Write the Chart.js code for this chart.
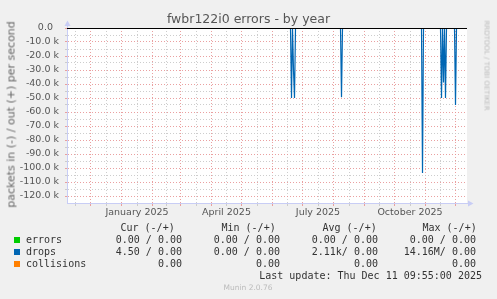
<!DOCTYPE html>
<html><head><meta charset="utf-8">
<script src="https://cdn.jsdelivr.net/npm/chart.js@4"></script>
<style>
html,body{margin:0;padding:0;background:#f0f0f0;}
#wrap{position:relative;width:497px;height:299px;overflow:hidden;background:#f0f0f0;}
canvas{position:absolute;left:0;top:0;}
.t{position:absolute;white-space:pre;line-height:1;font-family:'DejaVu Sans',sans-serif;}
.m{position:absolute;white-space:pre;line-height:1;font-family:'DejaVu Sans Mono',monospace;font-size:10px;color:#333;}
.sq{position:absolute;width:6px;height:6px;}
</style></head>
<body><div id="wrap"><canvas id="c" width="497" height="299"></canvas>
<div class="t" style="left:0;width:497px;text-align:center;top:12.7px;font-size:12.5px;color:#555">fwbr122i0 errors - by year</div>
<div class="t" style="left:-98.8px;top:108.5px;width:220px;height:11px;text-align:center;font-size:11px;color:#666;transform:rotate(-90deg);transform-origin:50% 50%">packets in (-) / out (+) per second</div>
<div class="t" style="left:436.4px;top:61.5px;width:100px;height:7px;text-align:center;font-size:7px;color:#bbb;transform:rotate(90deg);transform-origin:50% 50%">RRDTOOL / TOBI OETIKER</div>
<div id="legend"></div>
<div class="t" style="left:0;width:496px;text-align:center;top:284px;font-size:7.5px;color:#bbb">Munin 2.0.76</div>
</div>
<script>
// ---- data (x = days since 2025-01-01, one point per day) ----
const xMin = -54.5, xMax = 345.5;
const monthStartDays = [-61, -31, 0, 31, 59, 90, 120, 151, 181, 212, 243, 273, 304, 334, 365];
const xLabelDays = [15.5, 105, 196.5, 288.5];
const xLabelTexts = ['January 2025', 'April 2025', 'July 2025', 'October 2025'];

const yMin = -125000, yMax = 0;
const yTickValues = [-120000,-115000,-110000,-105000,-100000,-95000,-90000,-85000,-80000,-75000,-70000,-65000,-60000,-55000,-50000,-45000,-40000,-35000,-30000,-25000,-20000,-15000,-10000,-5000,0];

const dropsInDays   = [-54.5, 169, 170, 171, 172, 173, 174, 219, 220, 221, 300, 301, 302, 319, 320, 321, 322, 323, 324, 325, 333, 334, 335, 345.5];
const dropsInValues = [0, 0, -50000, 0, -30000, -50000, 0, 0, -49500, 0, 0, -103500, 0, 0, -50000, 0, -39000, 0, -50000, 0, 0, -55000, 0, 0];
const errorsDays = [-54.5, 345.5];
const errorsValues = [0, 0];
const collisionsDays = [-54.5, 345.5];
const collisionsValues = [0, 0];

const legendNames = ['errors', 'drops', 'collisions'];
const legendColors = ['#00cc00', '#0066b3', '#ff8000'];
const legendHeaders = ['Cur (-/+)', 'Min (-/+)', 'Avg (-/+)', 'Max (-/+)'];
const curVals = ['0.00 / 0.00', '4.50 / 0.00', '0.00'];
const minVals = ['0.00 / 0.00', '0.00 / 0.00', '0.00'];
const avgVals = ['0.00 / 0.00', '2.11k/ 0.00', '0.00'];
const maxVals = ['0.00 / 0.00', '14.16M/ 0.00', '0.00'];
const lastUpdate = 'Last update: Thu Dec 11 09:55:00 2025';

// ---- legend (HTML text) ----
(function(){
  const lg = document.getElementById('legend');
  const add = (cls, txt, style) => { const d = document.createElement('div'); d.className = cls; d.textContent = txt; d.style.cssText = style; lg.appendChild(d); };
  const headLeft = [120.5, 221.5, 322.5, 422.5];
  legendHeaders.forEach((h,i)=> add('m', h, `left:${headLeft[i]}px;top:223px`));
  const colRight = [182, 280, 378, 476];
  const cols = [curVals, minVals, avgVals, maxVals];
  legendNames.forEach((n,r)=>{
    const top = 235 + r*12;
    const sq = document.createElement('div'); sq.className='sq'; sq.style.cssText=`left:14px;top:${top+2}px;background:${legendColors[r]}`; lg.appendChild(sq);
    add('m', n, `left:26px;top:${top}px`);
    cols.forEach((c,ci)=> add('m', c[r], `right:${497-colRight[ci]}px;top:${top}px`));
  });
  add('m', lastUpdate, `right:${497-482}px;top:271px`);
})();

// ---- ticks ----
const xTicks = [];
for (let i = 0; i < monthStartDays.length - 1; i++) {
  const s = monthStartDays[i], mid = (s + monthStartDays[i+1]) / 2;
  if (s >= xMin && s <= xMax) xTicks.push({value: s, major: true});
  if (mid >= xMin && mid <= xMax) xTicks.push({value: mid, major: false});
}
const RED = 'rgba(232,150,150,0.9)', GRAY = 'rgba(200,200,200,0.9)', AXIS = '#c8cdf5';
const gridColor = ctx => (ctx.tick && ctx.tick.major) ? RED : GRAY;
const tickFont = {family: "'DejaVu Sans', sans-serif", size: 9.5};

function mk(days, vals){ return days.map((d,i)=>({x:d, y:vals[i]})); }

const decor = {
  id: 'decor',
  beforeDraw(chart){
    const {ctx, chartArea:a} = chart;
    ctx.save(); ctx.fillStyle = '#ffffff'; ctx.fillRect(a.left, a.top, a.right-a.left, a.bottom-a.top); ctx.restore();
  },
  afterDatasetsDraw(chart){
    const {ctx, chartArea:a, scales} = chart;
    const y0 = Math.round(scales.y.getPixelForValue(0)) + 0.5;
    ctx.save();
    ctx.strokeStyle = '#000'; ctx.lineWidth = 1;
    ctx.beginPath(); ctx.moveTo(a.left, y0); ctx.lineTo(a.right, y0); ctx.stroke();
    const xl = Math.round(a.left) + 0.5, yb = Math.round(a.bottom) + 0.5;
    ctx.strokeStyle = AXIS; ctx.fillStyle = AXIS;
    ctx.beginPath(); ctx.moveTo(xl, a.top); ctx.lineTo(xl, a.top - 3); ctx.stroke();
    ctx.beginPath(); ctx.moveTo(xl, a.top - 7.5); ctx.lineTo(xl - 3, a.top - 2); ctx.lineTo(xl + 3, a.top - 2); ctx.closePath(); ctx.fill();
    ctx.beginPath(); ctx.moveTo(a.right, yb); ctx.lineTo(a.right + 2, yb); ctx.stroke();
    ctx.beginPath(); ctx.moveTo(a.right + 6.5, yb); ctx.lineTo(a.right + 1, yb - 3); ctx.lineTo(a.right + 1, yb + 3); ctx.closePath(); ctx.fill();
    ctx.restore();
  }
};

new Chart(document.getElementById('c'), {
  type: 'line',
  data: { datasets: [
    {label:'errors', data: mk(errorsDays, errorsValues), borderColor: legendColors[0], borderWidth: 1},
    {label:'drops', data: mk(dropsInDays, dropsInValues), borderColor: legendColors[1], borderWidth: 1.2},
    {label:'collisions', data: mk(collisionsDays, collisionsValues), borderColor: legendColors[2], borderWidth: 1}
  ]},
  options: {
    responsive: false, animation: false, devicePixelRatio: 1,
    layout: {padding: {top: 28, right: 30, bottom: 76, left: 0}},
    plugins: {legend: {display: false}, tooltip: {enabled: false}, title: {display: false}},
    elements: {point: {radius: 0}, line: {tension: 0}},
    scales: {
      x: {
        type: 'linear', min: xMin, max: xMax,
        afterBuildTicks: s => { s.ticks = xTicks.map(t => ({value: t.value, major: t.major})); },
        afterFit: s => { s.height = 20; },
        grid: {color: gridColor, tickColor: gridColor, tickLength: 3, lineWidth: 1},
        border: {color: AXIS, dash: [1, 2]},
        ticks: {autoSkip: false, maxRotation: 0, minRotation: 0, padding: 1, color: '#555', font: tickFont,
          callback: v => { const i = xLabelDays.findIndex(d => Math.abs(d - v) < 1e-6); return i >= 0 ? xLabelTexts[i] : ''; }}
      },
      y: {
        type: 'linear', min: yMin, max: yMax,
        afterBuildTicks: s => { s.ticks = yTickValues.map(v => ({value: v, major: v % 10000 === 0})); },
        afterFit: s => { s.width = 67; },
        grid: {color: gridColor, tickColor: gridColor, tickLength: 2, lineWidth: 1},
        border: {color: AXIS, dash: [1, 2]},
        ticks: {autoSkip: false, padding: 6, color: '#555', font: tickFont,
          callback: v => v % 10000 !== 0 ? '' : (v === 0 ? '0.0  ' : (v/1000).toFixed(1) + ' k')}
      }
    }
  },
  plugins: [decor]
});
</script>
</body></html>
